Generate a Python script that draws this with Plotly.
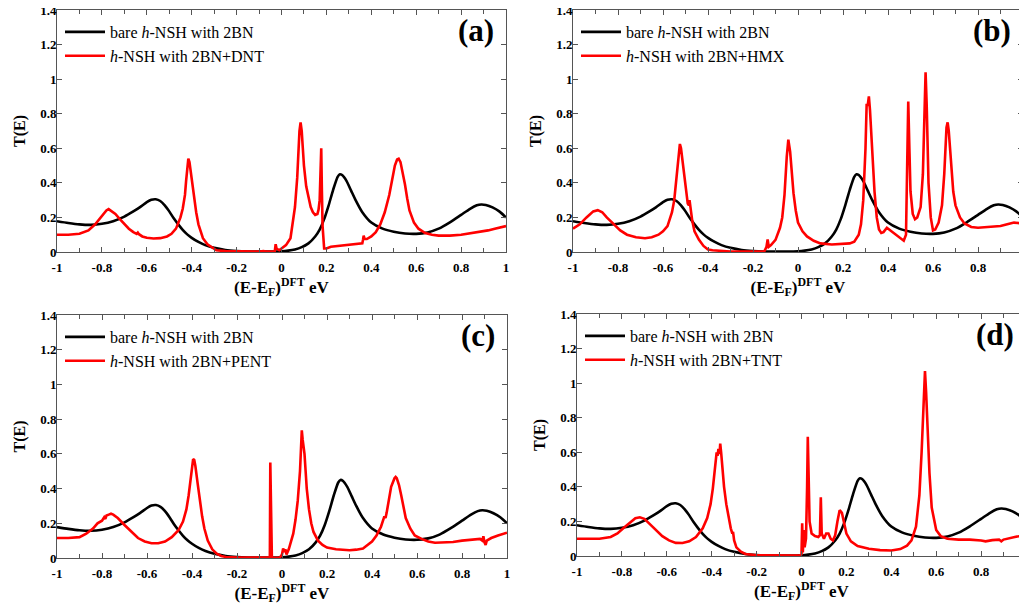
import plotly.graph_objects as go

# ---------------- data ----------------
energy_bare = [-1.0, -0.95, -0.9, -0.85, -0.8, -0.75, -0.7, -0.66, -0.63, -0.6, -0.58, -0.56, -0.54,
               -0.52, -0.5, -0.48, -0.46, -0.44, -0.42, -0.4, -0.37, -0.34, -0.3, -0.25, -0.2, -0.15,
               -0.1, -0.05, 0.0, 0.03, 0.06, 0.09, 0.12, 0.15, 0.17, 0.19, 0.21, 0.23, 0.25, 0.26,
               0.27, 0.29, 0.31, 0.33, 0.36, 0.4, 0.45, 0.5, 0.55, 0.6, 0.65, 0.7, 0.75, 0.8, 0.84,
               0.87, 0.89, 0.91, 0.94, 0.97, 1.0]
trans_bare = [0.178, 0.168, 0.16, 0.157, 0.163, 0.178, 0.205, 0.235, 0.26, 0.288, 0.302, 0.305, 0.295,
              0.27, 0.235, 0.195, 0.16, 0.128, 0.102, 0.082, 0.058, 0.04, 0.024, 0.012, 0.006, 0.003,
              0.002, 0.002, 0.004, 0.008, 0.015, 0.028, 0.05, 0.09, 0.13, 0.19, 0.27, 0.36, 0.435, 0.45,
              0.445, 0.41, 0.355, 0.3, 0.23, 0.17, 0.135, 0.117, 0.107, 0.105, 0.113, 0.135, 0.172, 0.215,
              0.25, 0.27, 0.275, 0.272, 0.258, 0.235, 0.2]

energy_dnt = [-1.0, -0.95, -0.9, -0.86, -0.83, -0.8, -0.78, -0.77, -0.76, -0.74, -0.72, -0.7, -0.68,
              -0.66, -0.645, -0.64, -0.635, -0.62, -0.6, -0.57, -0.54, -0.51, -0.49, -0.47, -0.45,
              -0.44, -0.43, -0.425, -0.42, -0.415, -0.41, -0.405, -0.4, -0.39, -0.38, -0.37, -0.36,
              -0.35, -0.33, -0.31, -0.3, -0.29, -0.25, -0.2, -0.1, -0.08, -0.07, -0.03, -0.026,
              -0.022, -0.018, -0.01, 0.0, 0.02, 0.04, 0.05, 0.06, 0.07, 0.075, 0.08, 0.085, 0.09,
              0.095, 0.1, 0.11, 0.12, 0.13, 0.14, 0.15, 0.16, 0.165, 0.17, 0.174, 0.177, 0.18, 0.183,
              0.19, 0.2, 0.22, 0.26, 0.3, 0.34, 0.36, 0.363, 0.366, 0.37, 0.38, 0.4, 0.42, 0.44, 0.46,
              0.48, 0.495, 0.505, 0.515, 0.522, 0.53, 0.54, 0.55, 0.56, 0.57, 0.59, 0.61, 0.64, 0.67,
              0.7, 0.75, 0.8, 0.85, 0.9, 0.92, 0.95, 1.0]
trans_dnt = [0.1, 0.1, 0.106, 0.125, 0.16, 0.205, 0.24, 0.248, 0.24, 0.22, 0.19, 0.16, 0.135,
             0.115, 0.105, 0.112, 0.103, 0.09, 0.082, 0.078, 0.08, 0.09, 0.105, 0.135, 0.2,
             0.25, 0.33, 0.41, 0.5, 0.54, 0.52, 0.47, 0.4, 0.3, 0.23, 0.16, 0.115,
             0.08, 0.045, 0.025, 0.02, 0.01, 0.005, 0.003, 0.003, 0.006, 0.003, 0.004, 0.045,
             0.02, 0.015, 0.01, 0.02, 0.04, 0.08, 0.16, 0.26, 0.43, 0.57, 0.7, 0.75, 0.7,
             0.6, 0.5, 0.38, 0.31, 0.26, 0.23, 0.215, 0.22, 0.245, 0.3, 0.45, 0.6, 0.35, 0.15,
             0.02, 0.02, 0.03, 0.035, 0.04, 0.045, 0.05, 0.07, 0.095, 0.075, 0.075, 0.09, 0.115, 0.16, 0.23,
             0.33, 0.43, 0.5, 0.535, 0.54, 0.52, 0.46, 0.39, 0.31, 0.24, 0.17, 0.135, 0.11, 0.1,
             0.095, 0.095, 0.1, 0.11, 0.12, 0.125, 0.135, 0.15]

energy_hmx = [-1.0, -0.97, -0.94, -0.91, -0.89, -0.87, -0.85, -0.82, -0.79, -0.76, -0.72, -0.68, -0.65,
              -0.62, -0.6, -0.58, -0.56, -0.55, -0.54, -0.53, -0.525, -0.52, -0.51, -0.5, -0.49,
              -0.485, -0.482, -0.478, -0.47, -0.46, -0.44, -0.42, -0.4, -0.38, -0.3, -0.2, -0.15,
              -0.14, -0.135, -0.13, -0.12, -0.1, -0.08, -0.07, -0.06, -0.05, -0.043, -0.035, -0.03,
              -0.02, -0.01, 0.0, 0.02, 0.04, 0.07, 0.1, 0.15, 0.2, 0.23, 0.25, 0.27, 0.28, 0.29, 0.3,
              0.305, 0.31, 0.315, 0.32, 0.33, 0.34, 0.35, 0.36, 0.37, 0.38, 0.395, 0.41, 0.43, 0.45,
              0.47, 0.48, 0.485, 0.49, 0.495, 0.5, 0.51, 0.52, 0.53, 0.545, 0.555, 0.562, 0.567, 0.572,
              0.58, 0.59, 0.6, 0.61, 0.625, 0.64, 0.65, 0.66, 0.665, 0.67, 0.68, 0.69, 0.7, 0.72, 0.74,
              0.77, 0.8, 0.85, 0.9, 0.93, 0.96, 1.0]
trans_hmx = [0.135, 0.16, 0.2, 0.235, 0.242, 0.23, 0.2, 0.16, 0.125, 0.1, 0.085, 0.08, 0.085,
             0.1, 0.12, 0.15, 0.23, 0.3, 0.43, 0.59, 0.625, 0.6, 0.5, 0.37, 0.28,
             0.27, 0.3, 0.26, 0.18, 0.12, 0.07, 0.035, 0.015, 0.01, 0.003, 0.002, 0.003,
             0.03, 0.072, 0.03, 0.04, 0.07, 0.14, 0.2, 0.33, 0.55, 0.65, 0.58, 0.5,
             0.34, 0.24, 0.17, 0.12, 0.09, 0.065, 0.05, 0.043, 0.045, 0.05, 0.06, 0.1, 0.16, 0.3, 0.6,
             0.85, 0.85, 0.9, 0.82, 0.55, 0.35, 0.2, 0.13, 0.11, 0.115, 0.14, 0.125, 0.1, 0.08,
             0.065, 0.1, 0.4, 0.87, 0.6, 0.35, 0.22, 0.19, 0.2, 0.26, 0.45, 0.8, 1.04, 0.85,
             0.4, 0.2, 0.125, 0.13, 0.17, 0.27, 0.45, 0.72, 0.75, 0.7, 0.5, 0.35, 0.27, 0.2, 0.165,
             0.145, 0.14, 0.145, 0.15, 0.16, 0.17, 0.165]

energy_pent = [-1.0, -0.95, -0.9, -0.87, -0.84, -0.82, -0.8, -0.79, -0.785, -0.78, -0.77, -0.76, -0.75,
               -0.73, -0.7, -0.67, -0.64, -0.61, -0.58, -0.55, -0.52, -0.49, -0.46, -0.44, -0.425,
               -0.415, -0.405, -0.395, -0.39, -0.385, -0.375, -0.365, -0.355, -0.345, -0.33, -0.31,
               -0.29, -0.27, -0.25, -0.2, -0.1, -0.054, -0.052, -0.05, -0.048, -0.045, -0.01, 0.0,
               0.005, 0.01, 0.015, 0.02, 0.03, 0.04, 0.05, 0.06, 0.07, 0.08, 0.085, 0.088, 0.092,
               0.096, 0.1, 0.105, 0.11, 0.12, 0.13, 0.14, 0.16, 0.18, 0.2, 0.24, 0.28, 0.3, 0.33, 0.36,
               0.37, 0.38, 0.4, 0.42, 0.44, 0.455, 0.46, 0.465, 0.475, 0.485, 0.5, 0.505, 0.51, 0.52,
               0.53, 0.54, 0.55, 0.57, 0.59, 0.62, 0.65, 0.68, 0.72, 0.76, 0.8, 0.85, 0.88, 0.89,
               0.895, 0.9, 0.905, 0.91, 0.93, 0.96, 1.0]
trans_pent = [0.115, 0.115, 0.12, 0.14, 0.17, 0.2, 0.215, 0.235, 0.225, 0.245, 0.25, 0.255, 0.25,
              0.23, 0.19, 0.15, 0.115, 0.095, 0.085, 0.085, 0.095, 0.12, 0.16, 0.21, 0.28,
              0.36, 0.48, 0.57, 0.565, 0.53, 0.43, 0.33, 0.24, 0.17, 0.1, 0.05,
              0.025, 0.012, 0.006, 0.003, 0.002, 0.002, 0.55, 0.3, 0.002, 0.001, 0.002, 0.02,
              0.055, 0.035, 0.05, 0.02, 0.05, 0.09, 0.14, 0.22, 0.33, 0.5, 0.66, 0.735, 0.68,
              0.65, 0.6, 0.5, 0.4, 0.28, 0.2, 0.15, 0.1, 0.075, 0.06, 0.05, 0.045, 0.045, 0.048, 0.055,
              0.065, 0.075, 0.095, 0.13, 0.18, 0.24, 0.23, 0.26, 0.34, 0.41, 0.46, 0.467, 0.46, 0.42,
              0.36, 0.29, 0.23, 0.17, 0.13, 0.11, 0.095, 0.088, 0.088, 0.092, 0.1, 0.105, 0.11, 0.1,
              0.125, 0.09, 0.075, 0.1, 0.115, 0.13, 0.146]

energy_tnt = [-1.0, -0.9, -0.85, -0.82, -0.79, -0.76, -0.74, -0.72, -0.7, -0.68, -0.65, -0.62, -0.59,
              -0.56, -0.53, -0.5, -0.47, -0.44, -0.42, -0.405, -0.395, -0.385, -0.378, -0.374, -0.37,
              -0.365, -0.362, -0.358, -0.352, -0.345, -0.335, -0.325, -0.315, -0.308, -0.305, -0.3,
              -0.29, -0.27, -0.25, -0.2, -0.1, -0.01, 0.0, 0.003, 0.006, 0.01, 0.014, 0.02, 0.025,
              0.028, 0.032, 0.036, 0.045, 0.06, 0.075, 0.082, 0.086, 0.09, 0.1, 0.11, 0.12, 0.13,
              0.14, 0.15, 0.16, 0.17, 0.18, 0.19, 0.2, 0.22, 0.25, 0.3, 0.35, 0.4, 0.44, 0.47, 0.49,
              0.51, 0.525, 0.535, 0.543, 0.55, 0.555, 0.562, 0.57, 0.58, 0.6, 0.62, 0.65, 0.7, 0.75,
              0.8, 0.82, 0.85, 0.88, 0.89, 0.9, 0.95, 1.0]
trans_tnt = [0.1, 0.1, 0.11, 0.13, 0.165, 0.2, 0.218, 0.224, 0.215, 0.19, 0.15, 0.115, 0.09,
             0.076, 0.075, 0.085, 0.11, 0.16, 0.22, 0.3, 0.39, 0.5, 0.6, 0.58, 0.62,
             0.59, 0.65, 0.6, 0.5, 0.4, 0.3, 0.22, 0.16, 0.13, 0.14, 0.09,
             0.05, 0.025, 0.012, 0.004, 0.002, 0.002, 0.01, 0.19, 0.02, 0.15, 0.05, 0.1, 0.4,
             0.69, 0.45, 0.2, 0.13, 0.115, 0.11, 0.12, 0.34, 0.13, 0.1, 0.13, 0.13, 0.1,
             0.09, 0.12, 0.2, 0.265, 0.25, 0.18, 0.13, 0.085, 0.058, 0.042, 0.034, 0.032, 0.04, 0.06, 0.09,
             0.17, 0.35, 0.6, 0.87, 1.07, 0.95, 0.74, 0.48, 0.28, 0.15, 0.115, 0.1, 0.095, 0.095,
             0.09, 0.085, 0.092, 0.095, 0.085, 0.095, 0.11, 0.122]

panel_labels = ["(a)", "(b)", "(c)", "(d)"]
analytes = ["DNT", "HMX", "PENT", "TNT"]
x_tick_vals = [-1, -0.8, -0.6, -0.4, -0.2, 0, 0.2, 0.4, 0.6, 0.8, 1]
x_tick_text = ["-1", "-0.8", "-0.6", "-0.4", "-0.2", "0", "0.2", "0.4", "0.6", "0.8", "1"]
y_tick_vals = [0, 0.2, 0.4, 0.6, 0.8, 1.0, 1.2, 1.4]
y_tick_text = ["0", "0.2", "0.4", "0.6", "0.8", "1", "1.2", "1.4"]

red_series = [(energy_dnt, trans_dnt), (energy_hmx, trans_hmx),
              (energy_pent, trans_pent), (energy_tnt, trans_tnt)]

# ---------------- layout geometry ----------------
OFF = 8                      # page body margin of the browser
W, H = 1027 - OFF, 608 - OFF
# target pixel boxes on the page: (left, right, top, bottom)
boxes = [(57, 506, 10, 252), (573, 1023, 10, 252), (57, 507, 315, 558), (577, 1026, 314, 556)]

SERIF = "Liberation Serif"
fig = go.Figure()
layout = dict(width=W, height=H, margin=dict(l=0, r=0, t=0, b=0, autoexpand=False),
              paper_bgcolor="white", plot_bgcolor="white", showlegend=True,
              annotations=[])

for i in range(4):
    sfx = "" if i == 0 else str(i + 1)
    xa, ya = "x" + sfx, "y" + sfx
    lg = "legend" + sfx
    ex, tr = red_series[i]
    fig.add_trace(go.Scatter(x=energy_bare, y=trans_bare, mode="lines", xaxis=xa, yaxis=ya,
                             name="bare <i>h</i>-NSH with 2BN", legend=lg,
                             line=dict(color="black", width=2.6, shape="spline", smoothing=0.6)))
    fig.add_trace(go.Scatter(x=ex, y=tr, mode="lines", xaxis=xa, yaxis=ya,
                             name="<i>h</i>-NSH with 2BN+" + analytes[i], legend=lg,
                             line=dict(color="#ff0000", width=2.6)))
    l, r, t, b = [v - OFF for v in boxes[i]]
    axis_common = dict(showline=True, linecolor="#555", linewidth=1, mirror="ticks",
                       ticks="inside", ticklen=5, tickcolor="#555", showgrid=False,
                       zeroline=False, automargin=False, ticklabeloverflow="allow",
                       tickfont=dict(family=SERIF, size=13, color="black", weight="bold"))
    layout["xaxis" + sfx] = dict(
        domain=[l / W, r / W], anchor=ya, range=[-1, 1],
        tickvals=x_tick_vals, ticktext=x_tick_text, ticklabelstandoff=3,
        minor=dict(dtick=0.1, tick0=0, ticks="inside", ticklen=4, tickcolor="#555"),
        title=dict(text="(E-E<sub>F</sub>)<sup>DFT</sup> eV", standoff=2,
                   font=dict(family=SERIF, size=17, color="black", weight="bold")),
        **axis_common)
    layout["yaxis" + sfx] = dict(
        domain=[1 - b / H, 1 - t / H], anchor=xa, range=[0, 1.4],
        tickvals=y_tick_vals, ticktext=y_tick_text, ticklabelstandoff=-3,
        title=dict(text="T(E)", standoff=10,
                   font=dict(family=SERIF, size=16, color="black", weight="bold")),
        **axis_common)
    layout[lg] = dict(x=(l + 3) / W, y=1 - (t + 5) / H, xanchor="left", yanchor="top",
                      bgcolor="rgba(0,0,0,0)", borderwidth=0, tracegroupgap=0,
                      itemwidth=40,
                      font=dict(family=SERIF, size=16, color="black"))
    layout["annotations"].append(dict(
        text="<b>" + panel_labels[i] + "</b>", xref=xa + " domain", yref=ya + " domain",
        x=0.978, y=0.915, xanchor="right", yanchor="middle", showarrow=False,
        font=dict(family=SERIF, size=31, color="black")))

fig.update_layout(**layout)
fig.write_html("out.html")
